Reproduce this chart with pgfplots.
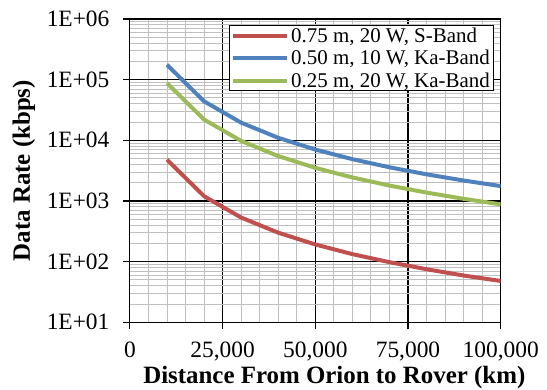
\documentclass[border=0pt]{standalone}
\usepackage{pgfplots}
\pgfplotsset{compat=1.18}
\usepackage{fontspec}
\setmainfont{Liberation Serif}
\definecolor{cred}{HTML}{C0504D}
\definecolor{cblue}{HTML}{4F81BD}
\definecolor{cgreen}{HTML}{9BBB59}
\begin{document}
\begin{tikzpicture}
\begin{axis}[
  scale only axis, width=370.8bp, height=303.3bp,
  xmin=0, xmax=100000, ymode=log, ymin=10, ymax=1000000,
  scaled x ticks=false,
  xtick={0,25000,50000,75000,100000},
  xticklabels={0,{25,000},{50,000},{75,000},{100,000}},
  minor x tick num=4,
  ytick={10,100,1000,10000,100000,1000000},
  yticklabels={1E+01,1E+02,1E+03,1E+04,1E+05,1E+06},
  minor ytick={20,30,40,50,60,70,80,90,200,300,400,500,600,700,800,900,2000,3000,4000,5000,6000,7000,8000,9000,20000,30000,40000,50000,60000,70000,80000,90000,200000,300000,400000,500000,600000,700000,800000,900000},
  grid=both,
  major grid style={black, line width=1.1bp},
  minor grid style={black!25, line width=0.9bp},
  axis line style={black, line width=1.1bp},
  tick style={black, line width=1.1bp},
  major tick length=7bp, minor tick length=0pt,
  tick align=outside, xtick pos=bottom, ytick pos=left,
  ticklabel style={font=\fontsize{23.5}{25}\selectfont},
  yticklabel style={xshift=-10bp},
  xticklabel style={yshift=-9bp},
  xlabel={Distance From Orion to Rover (km)},
  ylabel={Data Rate (kbps)},
  label style={font=\fontsize{25}{27}\selectfont\bfseries},
  xlabel style={at={(axis description cs:0.5,0)}, anchor=center, yshift=-55bp, xshift=19bp},
  ylabel style={at={(axis description cs:0,0.5)}, anchor=center, rotate=0, yshift=106bp},
  legend style={at={(axis description cs:1,1)}, anchor=north east, xshift=-6.4bp, yshift=-6bp,
    font=\fontsize{21}{22}\selectfont, draw=black, line width=1.1bp, inner xsep=2bp, inner ysep=0bp,
    cells={anchor=west}, row sep=2.5bp},
  legend image code/.code={\draw[#1, line width=4bp] (0bp,0bp) -- (54bp,0bp);},
  legend cell align=left,
]
\addplot[cred, line width=4bp] coordinates {(10000,4800) (20000,1200) (30000,533) (40000,300) (50000,192) (60000,133) (70000,98) (80000,75) (90000,59) (100000,48)};
\addlegendentry{0.75 m, 20 W, S-Band}
\addplot[cblue, line width=4bp] coordinates {(10000,176000) (20000,44000) (30000,19556) (40000,11000) (50000,7040) (60000,4889) (70000,3592) (80000,2750) (90000,2173) (100000,1760)};
\addlegendentry{0.50 m, 10 W, Ka-Band}
\addplot[cgreen, line width=4bp] coordinates {(10000,88000) (20000,22000) (30000,9778) (40000,5500) (50000,3520) (60000,2444) (70000,1796) (80000,1375) (90000,1086) (100000,880)};
\addlegendentry{0.25 m, 20 W, Ka-Band}
\coordinate (BL) at (rel axis cs:0,0);
\coordinate (TR) at (rel axis cs:1,1);
\end{axis}
\pgfresetboundingbox
\path ([xshift=-129.9bp,yshift=-67.7bp]BL) rectangle ([xshift=46.3bp,yshift=19bp]TR);
\end{tikzpicture}
\end{document}
